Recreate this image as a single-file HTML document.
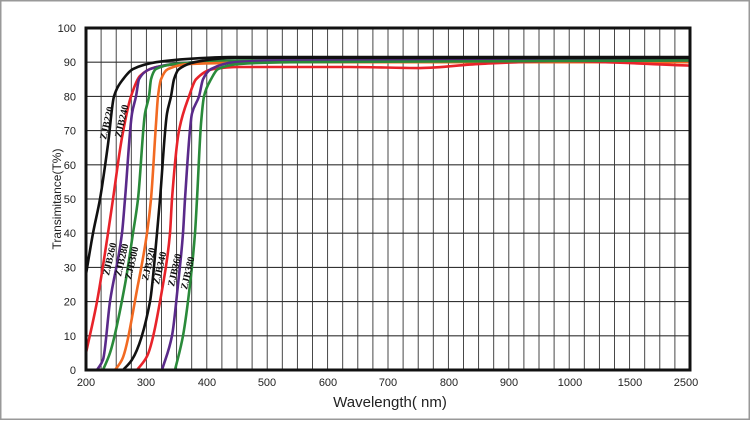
<!DOCTYPE html>
<html><head><meta charset="utf-8"><style>
html,body{margin:0;padding:0;background:#fff}
body{width:750px;height:420px;overflow:hidden}
</style></head><body>
<svg id="s" width="750" height="420" xmlns="http://www.w3.org/2000/svg" font-family="Liberation Sans, sans-serif">
<rect x="0.5" y="0.5" width="749" height="419" fill="#fff" stroke="#999" stroke-width="2"/>
<g id="grid"></g>
<g id="curves" fill="none" stroke-width="2.6" stroke-linejoin="round"></g>
<rect x="86" y="28" width="604" height="342" fill="none" stroke="#111" stroke-width="3"/>
<g font-size="11" fill="#222" text-anchor="end" id="yl"></g>
<g font-size="11" fill="#222" text-anchor="middle">
<text x="86" y="386">200</text><text x="146" y="386">300</text><text x="207" y="386">400</text>
<text x="267" y="386">500</text><text x="328" y="386">600</text><text x="388" y="386">700</text>
<text x="449" y="386">800</text><text x="509" y="386">900</text><text x="570" y="386">1000</text>
<text x="630" y="386">1500</text><text x="686" y="386">2500</text>
</g>
<text x="390" y="407" font-size="15" text-anchor="middle" fill="#222">Wavelength( nm)</text>
<text transform="translate(61,199) rotate(-90)" font-size="12" text-anchor="middle" fill="#222">Transimitance(T%)</text>
<g font-family="Liberation Serif, serif" font-weight="bold" font-size="10" fill="#111">
<text transform="translate(106,140) rotate(-77)">ZJB220</text>
<text transform="translate(121,138) rotate(-77)">ZJB240</text>
<text transform="translate(109,276) rotate(-77)">ZJB260</text>
<text transform="translate(121,277) rotate(-77)">ZJB280</text>
<text transform="translate(131,280) rotate(-77)">ZJB300</text>
<text transform="translate(148,281) rotate(-77)">ZJB320</text>
<text transform="translate(159,285) rotate(-77)">ZJB340</text>
<text transform="translate(174,287) rotate(-77)">ZJB360</text>
<text transform="translate(187,290) rotate(-77)">ZJB380</text>
</g>
</svg>
<script>
var NS="http://www.w3.org/2000/svg";
var g=document.getElementById('grid'),h='';
for(var i=1;i<40;i++){var x=86+i*604/40;h+='<line x1="'+x+'" y1="28" x2="'+x+'" y2="370" stroke="#333" stroke-width="0.9"/>';}
for(var j=1;j<10;j++){var y=370-j*34.2;h+='<line x1="86" y1="'+y+'" x2="690" y2="'+y+'" stroke="#333" stroke-width="1.1"/>';}
g.innerHTML=h;
var yl='';for(var k=0;k<=10;k++){yl+='<text x="76" y="'+(374-k*34.2)+'">'+(k*10)+'</text>';}
document.getElementById('yl').innerHTML=yl;
function Y(t){return 370-t*3.42;}
var C=[
["#111",[[86,28],[93,40],[100,50],[108,66],[114,80],[123,85],[133,88],[156,90],[190,91],[230,91.5],[690,91.5]]],
["#e8232a",[[86,5],[97,20],[108,40],[113,50],[122,68],[131,80],[140,86],[155,88.5],[180,89.5],[230,90.2],[400,90],[560,90.5],[690,90]]],
["#5a2a8a",[[97,0],[103,3],[110,20],[122,40],[125,50],[132,75],[136,80],[139,85],[150,88],[175,89.5],[230,90.5],[690,90.5]]],
["#2a8a3a",[[103,0],[110,5],[125,25],[133,40],[138,50],[145,75],[149,80],[151,85],[156,88],[175,89.5],[240,90.5],[690,90.5]]],
["#f26a22",[[115,0],[122,3],[138,25],[147,40],[151,50],[156,72],[158,80],[161,85],[168,88],[190,89.5],[300,90],[690,90]]],
["#111",[[123,0],[132,3],[150,20],[157,40],[160,50],[167,75],[171,80],[174,85],[179,88],[200,90.3],[235,91.3],[690,91]]],
["#e8232a",[[137,0],[147,4],[163,25],[170,40],[172,50],[179,70],[189,80],[196,85],[213,88],[240,88.6],[350,88.6],[420,88.3],[480,89.5],[560,90.3],[690,89]]],
["#5a2a8a",[[162,0],[172,10],[178,25],[183,40],[185,50],[192,75],[199,80],[203,85],[211,88],[235,90],[280,90.5],[690,90.5]]],
["#2a8a3a",[[175,0],[183,10],[190,25],[195,40],[197,50],[201,72],[204,80],[211,85],[218,88],[240,89.5],[290,90],[690,90.5]]]
];
function mono(p){
 var n=p.length,dx=[],s=[],m=[];
 for(var i=0;i<n-1;i++){dx[i]=p[i+1][0]-p[i][0];s[i]=(p[i+1][1]-p[i][1])/dx[i];}
 m[0]=s[0];m[n-1]=s[n-2];
 for(var i=1;i<n-1;i++){ if(s[i-1]*s[i]<=0)m[i]=0; else {var w1=2*dx[i]+dx[i-1],w2=dx[i]+2*dx[i-1];m[i]=(w1+w2)/(w1/s[i-1]+w2/s[i]);}}
 var d='M'+p[0][0]+','+p[0][1];
 for(var i=0;i<n-1;i++){var t=dx[i]/3;
  d+=' C'+(p[i][0]+t)+','+(p[i][1]+m[i]*t)+' '+(p[i+1][0]-t)+','+(p[i+1][1]-m[i+1]*t)+' '+p[i+1][0]+','+p[i+1][1];}
 return d;
}
var cg=document.getElementById('curves');
C.forEach(function(c){
 var p=c[1].map(function(q){return [q[0],Y(q[1])];});
 var e=document.createElementNS(NS,'path');e.setAttribute('d',mono(p));e.setAttribute('stroke',c[0]);cg.appendChild(e);
});
</script>
</body></html>
